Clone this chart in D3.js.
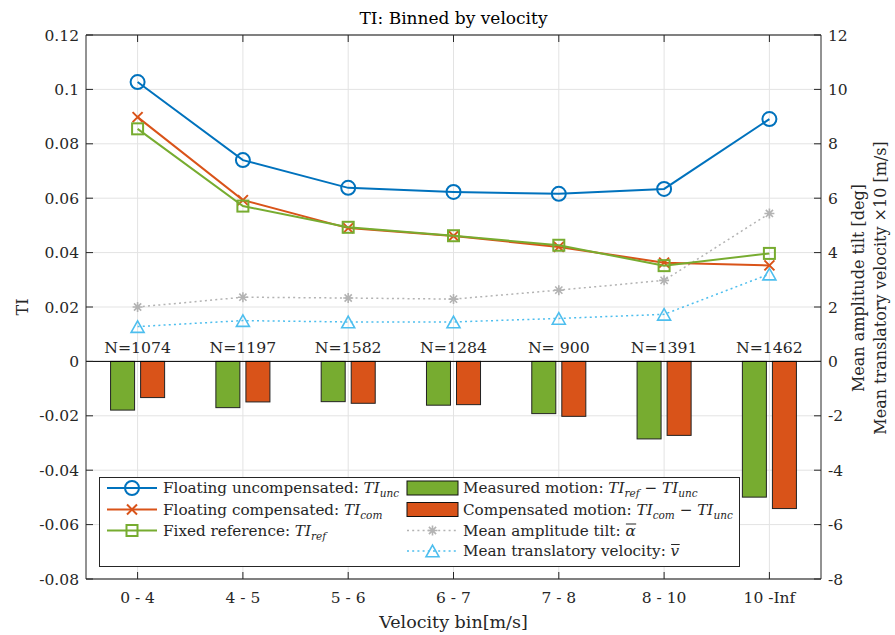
<!DOCTYPE html>
<html>
<head>
<meta charset="utf-8">
<script src="https://cdn.jsdelivr.net/npm/d3@7"></script>
<style>
  body { margin: 0; background: #fff; }
</style>
</head>
<body>
<svg id="chart" width="895" height="635"></svg>
<script>
// Velocity bins and sample counts
const bins = ["0 - 4", "4 - 5", "5 - 6", "6 - 7", "7 - 8", "8 - 10", "10 -Inf"];
const counts = [1074, 1197, 1582, 1284, 900, 1391, 1462];

// Turbulence intensity per bin (left axis)
const tiUnc = [0.1027, 0.0740, 0.0638, 0.0623, 0.0616, 0.0634, 0.0891];
const tiCom = [0.0898, 0.0593, 0.0490, 0.0461, 0.0421, 0.0363, 0.0353];
const tiRef = [0.0855, 0.0571, 0.0493, 0.0462, 0.0427, 0.0352, 0.0397];

// Differences shown as bars (left axis)
const measuredMotion = [-0.0179, -0.0170, -0.0148, -0.0161, -0.0192, -0.0285, -0.0499];
const compensatedMotion = [-0.0133, -0.0149, -0.0154, -0.0159, -0.0202, -0.0272, -0.0541];

// Motion statistics (right axis)
const meanTilt = [2.00, 2.36, 2.33, 2.29, 2.62, 2.98, 5.44];
const meanVelocity = [1.28, 1.50, 1.45, 1.45, 1.58, 1.73, 3.21];

// Tick values and labels
const leftTicks = [0.12, 0.1, 0.08, 0.06, 0.04, 0.02, 0, -0.02, -0.04, -0.06, -0.08];
const leftTickLabels = ["0.12", "0.1", "0.08", "0.06", "0.04", "0.02", "0", "-0.02", "-0.04", "-0.06", "-0.08"];
const rightTicks = [12, 10, 8, 6, 4, 2, 0, -2, -4, -6, -8];
const rightTickLabels = ["12", "10", "8", "6", "4", "2", "0", "-2", "-4", "-6", "-8"];

const C = {
  blue: "#0072BD", orange: "#D95319", green: "#77AC30",
  gray: "#b3b3b3", sky: "#4DBEEE", axis: "#262626", grid: "#e3e3e3"
};
const FONT = "'DejaVu Serif', serif";
const FS = 15.5;

const svg = d3.select("#chart");
const L = 86, R = 821, T = 35, B = 579;

// Every label goes through this so the face and colour are set inline
function label(g, size) {
  return g.append("text").style("font-family", FONT).style("font-size", size + "px").style("fill", C.axis);
}

const idx = d3.range(bins.length);
const x = d3.scaleLinear().domain([0.51, 7.49]).range([L, R]);
const yL = d3.scaleLinear().domain([-0.08, 0.12]).range([B, T]);
const yR = d3.scaleLinear().domain([-8, 12]).range([B, T]);
const barOffset = 0.1426, barWidth = 0.228;

// Grid
const grid = svg.append("g");
grid.selectAll("line.h").data(leftTicks).join("line")
  .attr("x1", L).attr("x2", R)
  .attr("y1", d => yL(d)).attr("y2", d => yL(d))
  .attr("stroke", C.grid).attr("stroke-width", 1);
grid.selectAll("line.v").data(idx).join("line")
  .attr("x1", i => x(i + 1)).attr("x2", i => x(i + 1))
  .attr("y1", T).attr("y2", B)
  .attr("stroke", C.grid).attr("stroke-width", 1);

// Bars
const bars = svg.append("g");
bars.selectAll("rect.m").data(idx).join("rect")
  .attr("x", i => x(i + 1 - barOffset - barWidth / 2))
  .attr("width", i => x(i + 1 - barOffset + barWidth / 2) - x(i + 1 - barOffset - barWidth / 2))
  .attr("y", yL(0))
  .attr("height", i => yL(measuredMotion[i]) - yL(0))
  .attr("fill", C.green).attr("stroke", "#222").attr("stroke-width", 1);
bars.selectAll("rect.c").data(idx).join("rect")
  .attr("x", i => x(i + 1 + barOffset - barWidth / 2))
  .attr("width", i => x(i + 1 + barOffset + barWidth / 2) - x(i + 1 + barOffset - barWidth / 2))
  .attr("y", yL(0))
  .attr("height", i => yL(compensatedMotion[i]) - yL(0))
  .attr("fill", C.orange).attr("stroke", "#222").attr("stroke-width", 1);

// Zero baseline
svg.append("line").attr("x1", L).attr("x2", R)
  .attr("y1", yL(0)).attr("y2", yL(0))
  .attr("stroke", "#000").attr("stroke-width", 1);

// Sample counts above the bars
const nG = svg.append("g");
idx.forEach(i => {
  label(nG, 15.7).attr("x", x(i + 1)).attr("y", yL(0) - 8)
    .attr("text-anchor", "middle").style("white-space", "pre")
    .text("N=" + String(counts[i]).padStart(4, " "));
});

// Marker painters
function circleMarker(g, cx, cy, color) {
  g.append("circle").attr("cx", cx).attr("cy", cy).attr("r", 7)
    .attr("fill", "none").attr("stroke", color).attr("stroke-width", 2);
}
function crossMarker(g, cx, cy, color) {
  const s = 5;
  g.append("path").attr("d", `M${cx - s},${cy - s}L${cx + s},${cy + s}M${cx - s},${cy + s}L${cx + s},${cy - s}`)
    .attr("stroke", color).attr("stroke-width", 2).attr("fill", "none");
}
function squareMarker(g, cx, cy, color) {
  const s = 5.5;
  g.append("rect").attr("x", cx - s).attr("y", cy - s).attr("width", 2 * s).attr("height", 2 * s)
    .attr("fill", "none").attr("stroke", color).attr("stroke-width", 2);
}
function starMarker(g, cx, cy, color) {
  const s = 5, d = 3.6;
  g.append("path").attr("d",
    `M${cx - s},${cy}L${cx + s},${cy}M${cx},${cy - s}L${cx},${cy + s}` +
    `M${cx - d},${cy - d}L${cx + d},${cy + d}M${cx - d},${cy + d}L${cx + d},${cy - d}`)
    .attr("stroke", color).attr("stroke-width", 1.6).attr("fill", "none");
}
function triMarker(g, cx, cy, color) {
  const w = 6.5, h = 5.8;
  g.append("path").attr("d", `M${cx},${cy - h}L${cx + w},${cy + h}L${cx - w},${cy + h}Z`)
    .attr("fill", "none").attr("stroke", color).attr("stroke-width", 1.6);
}

const lineL = d3.line().x((d, i) => x(i + 1)).y(d => yL(d));
const lineR = d3.line().x((d, i) => x(i + 1)).y(d => yR(d));
const dots = "2 3.2";

// Right-axis series (dotted)
const rightG = svg.append("g");
rightG.append("path").datum(meanTilt).attr("d", lineR)
  .attr("fill", "none").attr("stroke", C.gray).attr("stroke-width", 1.5).attr("stroke-dasharray", dots);
meanTilt.forEach((v, i) => starMarker(rightG, x(i + 1), yR(v), C.gray));
rightG.append("path").datum(meanVelocity).attr("d", lineR)
  .attr("fill", "none").attr("stroke", C.sky).attr("stroke-width", 1.5).attr("stroke-dasharray", dots);
meanVelocity.forEach((v, i) => triMarker(rightG, x(i + 1), yR(v), C.sky));

// Left-axis TI series
const series = [
  { data: tiUnc, color: C.blue, marker: circleMarker },
  { data: tiCom, color: C.orange, marker: crossMarker },
  { data: tiRef, color: C.green, marker: squareMarker }
];
series.forEach(s => {
  const g = svg.append("g");
  g.append("path").datum(s.data).attr("d", lineL)
    .attr("fill", "none").attr("stroke", s.color).attr("stroke-width", 2);
  s.data.forEach((v, i) => s.marker(g, x(i + 1), yL(v), s.color));
});

// Axes box
const ax = svg.append("g");
ax.append("line").attr("x1", L).attr("x2", R).attr("y1", T).attr("y2", T).attr("stroke", "#5a5a5a").attr("stroke-width", 1.5);
ax.append("line").attr("x1", L).attr("x2", R).attr("y1", B).attr("y2", B).attr("stroke", "#5a5a5a").attr("stroke-width", 1.5);
ax.append("line").attr("x1", L).attr("x2", L).attr("y1", T).attr("y2", B).attr("stroke", C.axis).attr("stroke-width", 1);
ax.append("line").attr("x1", R).attr("x2", R).attr("y1", T).attr("y2", B).attr("stroke", C.axis).attr("stroke-width", 1);

// Category ticks (top and bottom, pointing inward) and labels
idx.forEach(i => {
  ax.append("line").attr("x1", x(i + 1)).attr("x2", x(i + 1)).attr("y1", B).attr("y2", B - 7).attr("stroke", C.axis);
  ax.append("line").attr("x1", x(i + 1)).attr("x2", x(i + 1)).attr("y1", T).attr("y2", T + 7).attr("stroke", C.axis);
  label(ax, FS).attr("x", x(i + 1)).attr("y", 603).attr("text-anchor", "middle").text(bins[i]);
});

// Left ticks
leftTicks.forEach((v, k) => {
  ax.append("line").attr("x1", L).attr("x2", L + 7).attr("y1", yL(v)).attr("y2", yL(v)).attr("stroke", C.axis);
  label(ax, FS).attr("x", 79).attr("y", yL(v)).attr("dy", "0.36em")
    .attr("text-anchor", "end").text(leftTickLabels[k]);
});
// Right ticks
rightTicks.forEach((v, k) => {
  ax.append("line").attr("x1", R).attr("x2", R - 7).attr("y1", yR(v)).attr("y2", yR(v)).attr("stroke", C.axis);
  label(ax, FS).attr("x", 828).attr("y", yR(v)).attr("dy", "0.36em")
    .attr("text-anchor", "start").text(rightTickLabels[k]);
});

// Titles and axis labels
label(svg, 17).attr("x", (L + R) / 2).attr("y", 24).attr("text-anchor", "middle")
  .style("fill", "#000").text("TI: Binned by velocity");
label(svg, 17.5).attr("x", (L + R) / 2).attr("y", 628).attr("text-anchor", "middle")
  .text("Velocity bin[m/s]");
label(svg, 16).attr("transform", `translate(28,${(T + B) / 2}) rotate(-90)`)
  .attr("text-anchor", "middle").text("TI");
label(svg, 16).attr("transform", "translate(864,288) rotate(-90)")
  .attr("text-anchor", "middle").text("Mean amplitude tilt [deg]");
label(svg, 16).attr("transform", "translate(886,288) rotate(-90)")
  .attr("text-anchor", "middle").text("Mean translatory velocity \u00d710 [m/s]");

// Legend
const lg = svg.append("g");
lg.append("rect").attr("x", 99.5).attr("y", 477.5).attr("width", 640).attr("height", 89)
  .attr("fill", "#fff").attr("stroke", C.axis).attr("stroke-width", 1);

const rows = [488, 509.5, 530.5, 551];
const col1 = { x0: 107, x1: 157, tx: 163 };
const col2 = { x0: 407, x1: 458, tx: 463 };
const LFS = 15.2;

// Writes text mixing plain runs and italic math with subscripts
function richText(g, xPos, yPos, parts) {
  const t = label(g, LFS).attr("x", xPos).attr("y", yPos).attr("dy", "0.36em");
  let shift = 0;
  parts.forEach(p => {
    let sp;
    if (p.sub) {
      sp = t.append("tspan").style("font-style", "italic").style("font-size", "10.5px").text(p.sub);
      sp.attr("dy", 4 - shift); shift = 4;
    } else {
      sp = p.it ? t.append("tspan").style("font-style", "italic").text(p.it)
                : t.append("tspan").style("white-space", "pre").text(p.t);
      if (shift) { sp.attr("dy", -shift); shift = 0; }
    }
  });
  return t;
}

// Column 1: TI lines
series.forEach((s, k) => {
  const cy = rows[k];
  lg.append("line").attr("x1", col1.x0).attr("x2", col1.x1).attr("y1", cy).attr("y2", cy)
    .attr("stroke", s.color).attr("stroke-width", 2);
  s.marker(lg, (col1.x0 + col1.x1) / 2, cy, s.color);
});
richText(lg, col1.tx, rows[0], [{ t: "Floating uncompensated: " }, { it: "TI" }, { sub: "unc" }]);
richText(lg, col1.tx, rows[1], [{ t: "Floating compensated: " }, { it: "TI" }, { sub: "com" }]);
richText(lg, col1.tx, rows[2], [{ t: "Fixed reference: " }, { it: "TI" }, { sub: "ref" }]);

// Column 2: bars and dotted series
[C.green, C.orange].forEach((c, k) => {
  lg.append("rect").attr("x", col2.x0).attr("y", rows[k] - 7).attr("width", col2.x1 - col2.x0).attr("height", 14)
    .attr("fill", c).attr("stroke", "#111").attr("stroke-width", 1);
});
richText(lg, col2.tx, rows[0], [{ t: "Measured motion: " }, { it: "TI" }, { sub: "ref" }, { t: " \u2212 " }, { it: "TI" }, { sub: "unc" }]);
richText(lg, col2.tx, rows[1], [{ t: "Compensated motion: " }, { it: "TI" }, { sub: "com" }, { t: " \u2212 " }, { it: "TI" }, { sub: "unc" }]);

lg.append("line").attr("x1", col2.x0).attr("x2", col2.x1).attr("y1", rows[2]).attr("y2", rows[2])
  .attr("stroke", C.gray).attr("stroke-width", 1.5).attr("stroke-dasharray", dots);
starMarker(lg, (col2.x0 + col2.x1) / 2, rows[2], C.gray);
lg.append("line").attr("x1", col2.x0).attr("x2", col2.x1).attr("y1", rows[3]).attr("y2", rows[3])
  .attr("stroke", C.sky).attr("stroke-width", 1.5).attr("stroke-dasharray", dots);
triMarker(lg, (col2.x0 + col2.x1) / 2, rows[3], C.sky);

// Labels ending with an overlined symbol
function overlined(g, xPos, yPos, text, symbol) {
  const t = label(g, LFS).attr("x", xPos).attr("y", yPos).attr("dy", "0.36em")
    .style("white-space", "pre").text(text);
  const w = t.node().getComputedTextLength();
  const s = label(g, LFS).attr("x", xPos + w).attr("y", yPos).attr("dy", "0.36em")
    .style("font-style", "italic").text(symbol);
  const sw = s.node().getComputedTextLength();
  g.append("line").attr("x1", xPos + w + 0.5).attr("x2", xPos + w + sw + 0.5)
    .attr("y1", yPos - 6.5).attr("y2", yPos - 6.5).attr("stroke", C.axis).attr("stroke-width", 1);
}
overlined(lg, col2.tx, rows[2], "Mean amplitude tilt: ", "\u03b1");
overlined(lg, col2.tx, rows[3], "Mean translatory velocity: ", "v");
</script>
</body>
</html>
